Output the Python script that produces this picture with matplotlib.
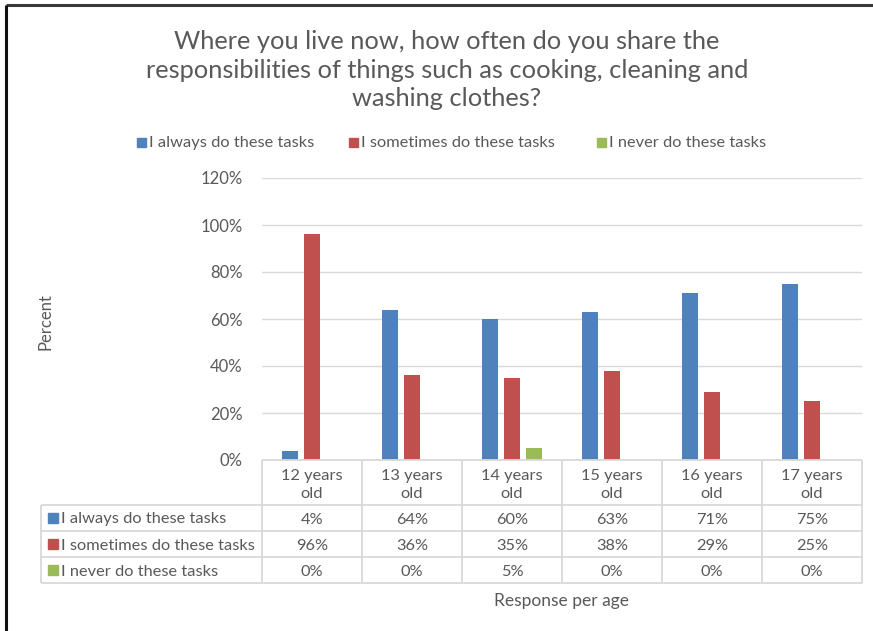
import matplotlib
matplotlib.use("Agg")
import matplotlib.pyplot as plt
import numpy as np

plt.rcParams['font.family'] = ['Lato', 'DejaVu Sans']

categories = ["12 years\nold", "13 years\nold", "14 years\nold",
              "15 years\nold", "16 years\nold", "17 years\nold"]
series_names = ["I always do these tasks",
                "I sometimes do these tasks",
                "I never do these tasks"]
always = [4, 64, 60, 63, 71, 75]
sometimes = [96, 36, 35, 38, 29, 25]
never = [0, 0, 5, 0, 0, 0]
series = [always, sometimes, never]
colors = ["#4F81BD", "#C0504D", "#9BBB59"]
yticks = [0, 20, 40, 60, 80, 100, 120]

title = ("Where you live now, how often do you share the\n"
         "responsibilities of things such as cooking, cleaning and\n"
         "washing clothes?")

TXT = "#595959"
GRID = "#D9D9D9"
W, H = 873, 631

fig = plt.figure(figsize=(W / 100, H / 100), dpi=100)

# plot area in pixel terms
x0, x1 = 262, 862
ytop, ybot = 178, 460
ax = fig.add_axes([x0 / W, 1 - ybot / H, (x1 - x0) / W, (ybot - ytop) / H])

n = len(categories)
x = np.arange(n)
bw = 0.16
step = 0.22
for i, (vals, c) in enumerate(zip(series, colors)):
    ax.bar(x + (i - 1) * step, vals, width=bw, color=c, zorder=3,
           label=series_names[i])

ax.set_xlim(-0.5, n - 0.5)
ax.set_ylim(0, 120)
ax.set_yticks(yticks)
ax.set_yticklabels([f"{v}%" for v in yticks], color=TXT, fontsize=12)
ax.tick_params(axis='y', length=0, pad=14)
ax.set_xticks([])
ax.grid(axis='y', color=GRID, linewidth=1, zorder=0)
for s in ax.spines.values():
    s.set_visible(False)

# overlay in pixel coordinates for table, title, legend, border
ov = fig.add_axes([0, 0, 1, 1], facecolor='none')
ov.set_xlim(0, W)
ov.set_ylim(H, 0)
ov.axis('off')

# chart border (top and left edges)
ov.plot([6, W], [5, 5], color="#3a3a3a", lw=2.2, solid_capstyle='butt')
ov.plot([6, 6], [5, H], color="#111111", lw=2.2, solid_capstyle='butt')

ov.text(447, 70, title, ha='center', va='center', fontsize=18.3,
        color=TXT, linespacing=1.3)

# legend row
leg_x = [137, 349, 597]
for lx, name, c in zip(leg_x, series_names, colors):
    ov.add_patch(plt.Rectangle((lx, 138), 9, 9, color=c))
    ov.text(lx + 12, 143, name, ha='left', va='center', fontsize=11.8,
            color=TXT)

# data table under the axis
col_w = (x1 - x0) / n
row_y = [460, 505, 531, 557, 583]
tl = 41
lk = dict(color=GRID, lw=1.3, solid_capstyle='butt')
ov.plot([x0, x1], [row_y[0], row_y[0]], **lk)
for ry in row_y[1:]:
    ov.plot([tl, x1], [ry, ry], **lk)
for j in range(n + 1):
    ov.plot([x0 + j * col_w] * 2, [row_y[0], row_y[-1]], **lk)
ov.plot([tl, tl], [row_y[1], row_y[-1]], **lk)

for j, cat in enumerate(categories):
    ov.text(x0 + (j + 0.5) * col_w, (row_y[0] + row_y[1]) / 2 + 2.5, cat,
            ha='center', va='center', fontsize=11.8, color=TXT,
            linespacing=1.45)

for r, (name, vals, c) in enumerate(zip(series_names, series, colors)):
    yc = (row_y[r + 1] + row_y[r + 2]) / 2
    ov.add_patch(plt.Rectangle((48, yc - 5), 10, 10, color=c))
    ov.text(61, yc + 1.5, name, ha='left', va='center', fontsize=11.8,
            color=TXT)
    for j, v in enumerate(vals):
        ov.text(x0 + (j + 0.5) * col_w, yc + 1.5, f"{v}%", ha='center',
                va='center', fontsize=11.8, color=TXT)

ov.text(562, 601, "Response per age", ha='center', va='center',
        fontsize=12.5, color=TXT)
ov.text(46, 322, "Percent", ha='center', va='center', rotation=90,
        fontsize=12, color=TXT)

fig.savefig("out.png", dpi=100)
